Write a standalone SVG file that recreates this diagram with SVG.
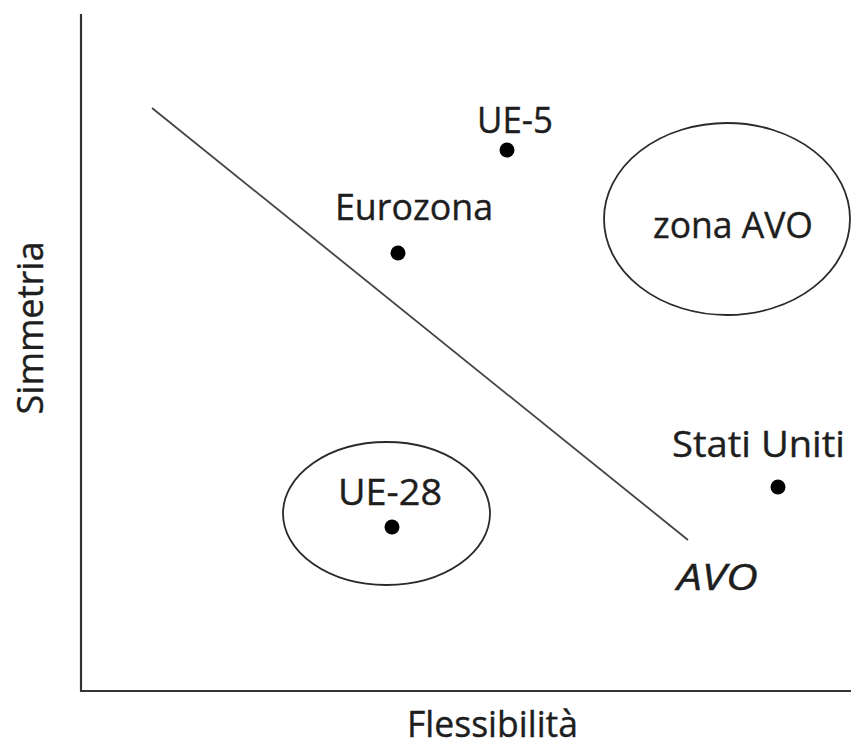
<svg xmlns="http://www.w3.org/2000/svg" width="851" height="750" viewBox="0 0 851 750">
  <style>
    .lbl { font-family: "Open Sans", "Noto Sans", "Liberation Sans", sans-serif; font-size: 37px; fill: #1e1e1e; stroke: #1e1e1e; stroke-width: 0.4; }
    .it { font-style: italic; }
    .axis { stroke: #333; stroke-width: 2.2; fill: none; }
    .line { stroke: #444; stroke-width: 1.8; fill: none; }
    .zone { stroke: #2a2a2a; stroke-width: 1.8; fill: none; }
    .dot { fill: #000; }
  </style>
  <rect width="851" height="750" fill="#fff"/>
  <g id="axes">
    <line class="axis" x1="81" y1="14" x2="81" y2="691"/>
    <line class="axis" x1="80" y1="691" x2="851" y2="691"/>
    <text class="lbl" x="407" y="737" textLength="171" lengthAdjust="spacingAndGlyphs">Flessibilità</text>
    <text class="lbl" transform="translate(43,328) rotate(-90)" text-anchor="middle" textLength="173" lengthAdjust="spacingAndGlyphs">Simmetria</text>
  </g>
  <g id="connectors">
    <line class="line" x1="152" y1="108" x2="688" y2="540"/>
  </g>
  <g id="avo-label">
    <text class="lbl it" x="677" y="590" textLength="81" lengthAdjust="spacingAndGlyphs">AVO</text>
  </g>
  <g id="zona-avo">
    <ellipse class="zone" cx="727" cy="219" rx="123" ry="96"/>
    <text class="lbl" x="653" y="238" textLength="160" lengthAdjust="spacingAndGlyphs">zona AVO</text>
  </g>
  <g id="ue5">
    <circle class="dot" cx="507" cy="150" r="7.5"/>
    <text class="lbl" x="477" y="133" textLength="76" lengthAdjust="spacingAndGlyphs">UE-5</text>
  </g>
  <g id="eurozona">
    <circle class="dot" cx="398" cy="253" r="7.5"/>
    <text class="lbl" x="335" y="220" textLength="158" lengthAdjust="spacingAndGlyphs">Eurozona</text>
  </g>
  <g id="stati-uniti">
    <circle class="dot" cx="778" cy="487" r="7.5"/>
    <text class="lbl" x="672" y="457" textLength="173" lengthAdjust="spacingAndGlyphs">Stati Uniti</text>
  </g>
  <g id="ue28">
    <ellipse class="zone" cx="386.5" cy="513.5" rx="103.5" ry="71.5"/>
    <circle class="dot" cx="392" cy="527" r="7.5"/>
    <text class="lbl" x="338" y="505" textLength="104" lengthAdjust="spacingAndGlyphs">UE-28</text>
  </g>
</svg>
